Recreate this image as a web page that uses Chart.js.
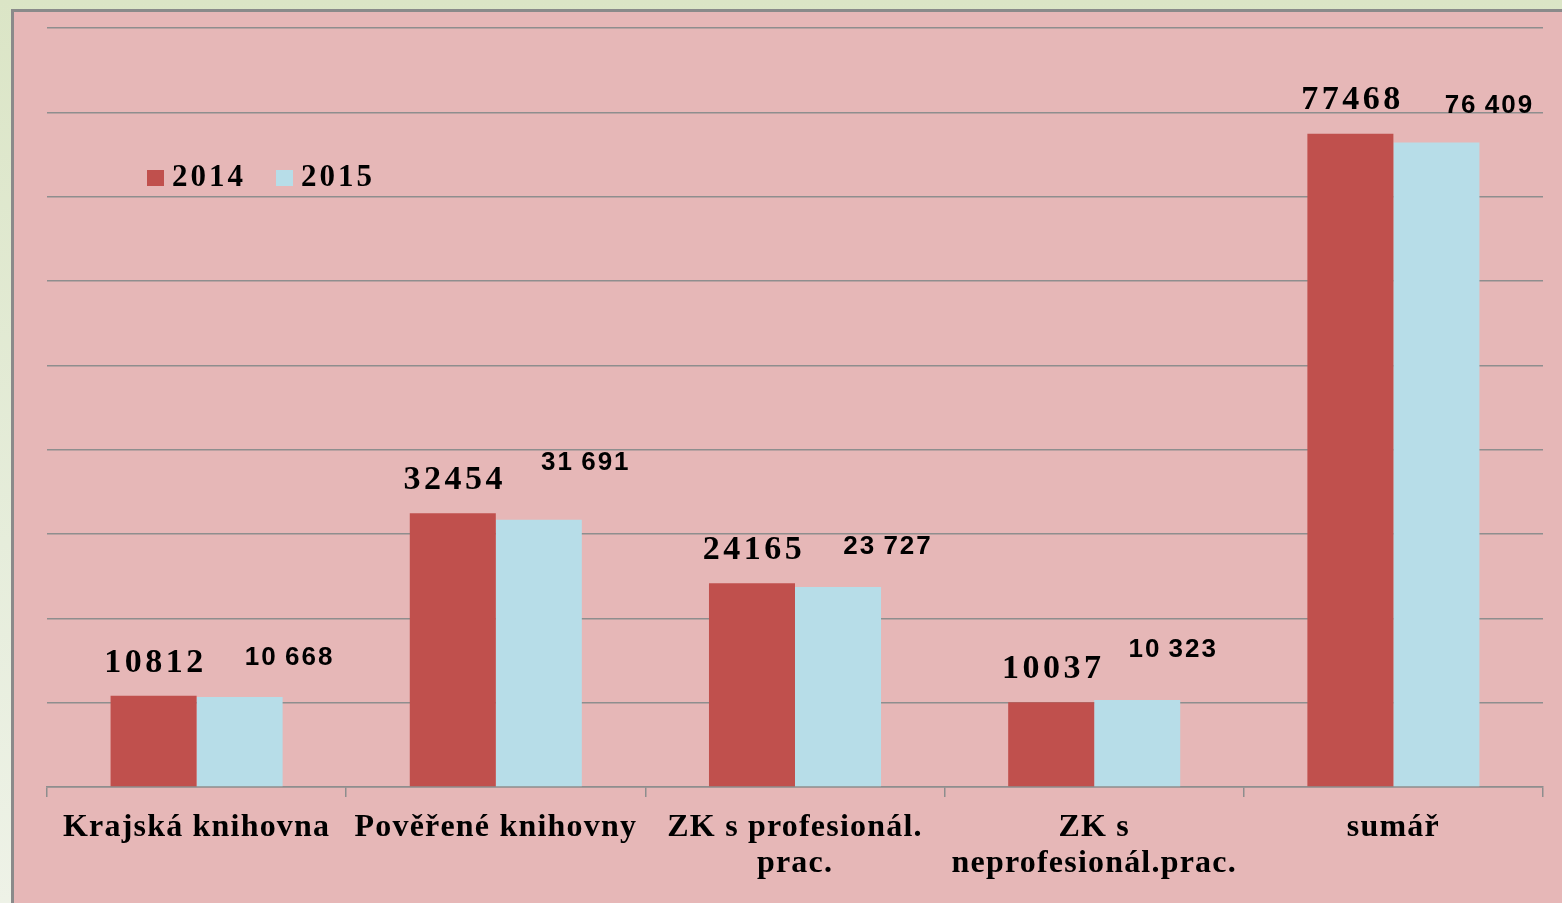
<!DOCTYPE html>
<html>
<head>
<meta charset="utf-8">
<script src="https://cdn.jsdelivr.net/npm/chart.js@4"></script>
<style>
  html, body { margin: 0; padding: 0; width: 1562px; height: 903px; overflow: hidden; }
  body { background: linear-gradient(180deg, #dbe5c6 0%, #e6eddb 60%, #eef2e7 100%); }
  #frame { position: absolute; left: 11px; top: 9px; width: 1560px; height: 900px;
           background: #e6b7b7; border-left: 3px solid #8a8a8a; border-top: 3px solid #8a8a8a; }
  canvas { position: absolute; left: 0; top: 0; }
</style>
</head>
<body>
<div id="frame"></div>
<canvas id="chart" width="1562" height="903"></canvas>
<script>
// categories (multi-line labels) and values
const categories = [
  ['Krajská knihovna'],
  ['Pověřené knihovny'],
  ['ZK s profesionál.', 'prac.'],
  ['ZK s', 'neprofesionál.prac.'],
  ['sumář']
];
const values2014 = [10812, 32454, 24165, 10037, 77468];
const values2015 = [10668, 31691, 23727, 10323, 76409];
const seriesNames = ['2014', '2015'];

// small nudges for the 2015 value labels (they sit off to the right in the original)
const nudge2015 = [[50, -39], [47, -57], [50, -40], [36, -50], [53, -37]];

const colors = ['#c0504d', '#b7dde8'];

function fmtSpace(v) {
  return String(v).replace(/\B(?=(\d{3})+(?!\d))/g, '\u2009');
}

// the original text looks stretched sideways, fake it with letter spacing on the axis labels
const tickSpacing = {
  id: 'tickSpacing',
  beforeDraw(chart) { chart.ctx.letterSpacing = '1.2px'; },
  beforeDatasetsDraw(chart) { chart.ctx.letterSpacing = '0px'; }
};

// value labels above bars
const valueLabels = {
  id: 'valueLabels',
  afterDatasetsDraw(chart) {
    const ctx = chart.ctx;
    ctx.save();
    ctx.fillStyle = '#000';
    ctx.textAlign = 'center';
    ctx.textBaseline = 'middle';

    const m0 = chart.getDatasetMeta(0);
    ctx.font = 'bold 34px "Liberation Serif"';
    ctx.letterSpacing = '3.5px';
    m0.data.forEach((bar, i) => {
      ctx.fillText(String(values2014[i]), bar.x + 2, bar.y - 33);
    });

    const m1 = chart.getDatasetMeta(1);
    ctx.font = 'bold 26px "Liberation Sans"';
    ctx.letterSpacing = '2px';
    m1.data.forEach((bar, i) => {
      ctx.fillText(fmtSpace(values2015[i]), bar.x + nudge2015[i][0], bar.y + nudge2015[i][1]);
    });
    ctx.restore();
  }
};

// legend drawn inside the plot area
const insideLegend = {
  id: 'insideLegend',
  afterDraw(chart) {
    const ctx = chart.ctx;
    ctx.save();
    ctx.font = 'bold 31px "Liberation Serif"';
    ctx.letterSpacing = '3px';
    ctx.textBaseline = 'middle';
    ctx.textAlign = 'left';
    let x = 147;
    const y = 178;
    chart.data.datasets.forEach(ds => {
      ctx.fillStyle = ds.backgroundColor;
      ctx.fillRect(x, y - 8, 17, 16);
      ctx.fillStyle = '#000';
      ctx.fillText(ds.label, x + 25, y);
      x += 129;
    });
    ctx.restore();
  }
};

new Chart(document.getElementById('chart'), {
  type: 'bar',
  data: {
    labels: categories,
    datasets: [
      { label: seriesNames[0], data: values2014, backgroundColor: colors[0] },
      { label: seriesNames[1], data: values2015, backgroundColor: colors[1] }
    ]
  },
  options: {
    responsive: false,
    animation: false,
    events: [],
    layout: { padding: { left: 47, right: 19, top: 28, bottom: 0 } },
    datasets: { bar: { categoryPercentage: 0.575, barPercentage: 1 } },
    plugins: {
      legend: { display: false },
      tooltip: { enabled: false }
    },
    scales: {
      x: {
        grid: { drawOnChartArea: false, drawTicks: true, tickLength: 10, color: '#8e8e8e', lineWidth: 1.5 },
        border: { display: true, color: '#8e8e8e', width: 1.5 },
        ticks: {
          color: '#000',
          padding: 12,
          maxRotation: 0,
          autoSkip: false,
          font: { family: '"Liberation Serif"', size: 32, weight: 'bold', lineHeight: 1.15 }
        },
        afterFit(scale) { scale.height = 116; }
      },
      y: {
        min: 0,
        max: 90000,
        ticks: { display: false, stepSize: 10000 },
        grid: { color: '#8e8e8e', lineWidth: 1.5, drawTicks: false },
        border: { display: false },
        afterFit(scale) { scale.width = 0; }
      }
    }
  },
  plugins: [tickSpacing, valueLabels, insideLegend]
});
</script>
</body>
</html>
